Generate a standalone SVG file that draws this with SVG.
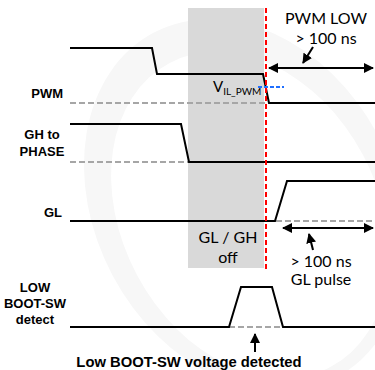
<svg xmlns="http://www.w3.org/2000/svg" width="375" height="370" viewBox="0 0 375 370">
<style>
.sig{fill:none;stroke:#000;stroke-width:2;stroke-linejoin:miter}
.base{fill:none;stroke:#a6a6a6;stroke-width:2;stroke-dasharray:6,3}
.arr{fill:none;stroke:#000;stroke-width:2}
.lbl{font-family:"Liberation Sans",Arial,sans-serif;font-weight:bold;font-size:13px;fill:#000}
.big{font-size:14.8px}
.note{font-family:Lato,"Liberation Sans",sans-serif;font-size:16px;fill:#000}
</style>
<defs>
<marker id="ah" viewBox="0 0 10 10" refX="9" refY="5" markerWidth="5" markerHeight="5" orient="auto-start-reverse" markerUnits="strokeWidth">
<path d="M0,0 L10,5 L0,10 z" fill="#000"/>
</marker>
</defs>
<rect width="375" height="370" fill="#fff"/>
<g id="background">
<ellipse cx="245" cy="205" rx="150" ry="195" transform="rotate(-28 245 205)" fill="#f7f7f7"/>
<ellipse cx="250" cy="215" rx="128" ry="172" transform="rotate(-28 250 215)" fill="#fff"/>
</g>
<g id="gl-gh-off">
<rect x="188" y="8" width="76" height="260" fill="#d9d9d9"/>
<text class="note" x="228" y="243" text-anchor="middle">GL / GH</text>
<text class="note" x="228" y="263" text-anchor="middle">off</text>
</g>
<g id="baselines">
<line class="base" x1="70" y1="103" x2="266" y2="103"/>
<line class="base" x1="70" y1="162" x2="188" y2="162"/>
<line class="base" x1="276" y1="221" x2="375" y2="221"/>
<line class="base" x1="229" y1="327" x2="283" y2="327"/>
</g>
<g id="pwm">
<text class="lbl" x="63" y="98" text-anchor="end">PWM</text>
<polyline class="sig" points="70,48 152,48 157,74 263,74 269,103 375,103"/>
</g>
<g id="gh-phase">
<text class="lbl" x="42" y="139" text-anchor="middle">GH to</text>
<text class="lbl" x="42" y="156" text-anchor="middle">PHASE</text>
<polyline class="sig" points="70,124 181,124 189,162 375,162"/>
</g>
<g id="gl">
<text class="lbl" x="62" y="217" text-anchor="end">GL</text>
<polyline class="sig" points="70,221 275,221 287,181 375,181"/>
</g>
<g id="boot-sw">
<text class="lbl" x="35" y="292" text-anchor="middle">LOW</text>
<text class="lbl" x="35" y="308" text-anchor="middle">BOOT-SW</text>
<text class="lbl" x="35" y="324" text-anchor="middle">detect</text>
<polyline class="sig" points="70,327 229,327 241,287 272,287 283,327 375,327"/>
</g>
<g id="vil">
<line x1="258" y1="87" x2="284" y2="87" stroke="#1f6fff" stroke-width="2" stroke-dasharray="4,2"/>
<text class="note" x="213" y="92" style="font-size:15px">V<tspan style="font-size:10px" dy="3">IL_PWM</tspan></text>
</g>
<g id="connectors">
<line x1="266" y1="8" x2="266" y2="270" stroke="#ff0000" stroke-width="2" stroke-dasharray="5,3"/>
<line class="arr" x1="269" y1="68" x2="373" y2="68" marker-start="url(#ah)" marker-end="url(#ah)"/>
<line class="arr" x1="313" y1="47" x2="303" y2="63" marker-end="url(#ah)"/>
<line class="arr" x1="283" y1="228" x2="373" y2="228" marker-start="url(#ah)" marker-end="url(#ah)"/>
<line class="arr" x1="313" y1="250" x2="309" y2="234" marker-end="url(#ah)"/>
<line class="arr" x1="255" y1="352" x2="255" y2="334" marker-end="url(#ah)"/>
</g>
<g id="notes">
<text class="note" x="326" y="24" text-anchor="middle">PWM LOW</text>
<text class="note" x="326" y="44" text-anchor="middle">&gt; 100 ns</text>
<text class="note" x="321" y="267" text-anchor="middle">&gt; 100 ns</text>
<text class="note" x="321" y="285" text-anchor="middle">GL pulse</text>
<text class="lbl big" x="189" y="367" text-anchor="middle">Low BOOT-SW voltage detected</text>
</g>
</svg>
